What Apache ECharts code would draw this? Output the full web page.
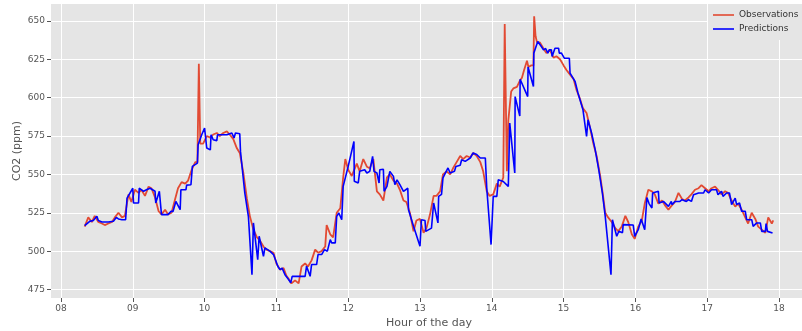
<!DOCTYPE html>
<html>
<head>
<meta charset="utf-8">
<script src="https://cdn.jsdelivr.net/npm/echarts@6/dist/echarts.min.js"></script>
<style>
  html, body { margin: 0; padding: 0; background: #ffffff; overflow: hidden; }
  #chart { width: 802px; height: 331px; }
</style>
</head>
<body>
<div id="chart"></div>
<script>
// Measured CO2 concentration (hour of day, ppm)
const obsTime = [
  8.33, 8.38, 8.43, 8.47, 8.52, 8.57, 8.61, 8.66, 8.71, 8.75, 8.80, 8.85, 8.89, 8.94, 8.98,
  9.03, 9.08, 9.12, 9.17, 9.22, 9.26, 9.31, 9.36, 9.40, 9.45, 9.49, 9.54, 9.59, 9.63, 9.68,
  9.73, 9.77, 9.82, 9.87, 9.90, 9.92, 9.94, 9.98, 10.03, 10.08, 10.12, 10.17, 10.21, 10.26, 10.31,
  10.35, 10.40, 10.45, 10.49, 10.54, 10.59, 10.63, 10.68, 10.73, 10.77, 10.82, 10.86, 10.91, 10.96, 11.00,
  11.05, 11.10, 11.14, 11.17, 11.21, 11.26, 11.31, 11.35, 11.40, 11.44, 11.49, 11.54, 11.58, 11.63, 11.68,
  11.70, 11.75, 11.79, 11.84, 11.89, 11.93, 11.96, 12.00, 12.05, 12.12, 12.16, 12.21, 12.26, 12.30, 12.35,
  12.40, 12.44, 12.49, 12.54, 12.58, 12.63, 12.68, 12.72, 12.77, 12.81, 12.86, 12.91, 12.95, 13.00, 13.05,
  13.09, 13.14, 13.19, 13.23, 13.28, 13.32, 13.37, 13.42, 13.46, 13.51, 13.56, 13.60, 13.65, 13.70, 13.74,
  13.79, 13.84, 13.88, 13.93, 13.97, 14.02, 14.07, 14.11, 14.16, 14.18, 14.21, 14.23, 14.27, 14.30, 14.35,
  14.39, 14.42, 14.45, 14.49, 14.51, 14.55, 14.58, 14.59, 14.61, 14.63, 14.67, 14.72, 14.76, 14.81, 14.86,
  14.90, 14.95, 15.00, 15.04, 15.09, 15.14, 15.18, 15.23, 15.27, 15.32, 15.37, 15.41, 15.46, 15.51, 15.55,
  15.58, 15.62, 15.67, 15.72, 15.76, 15.81, 15.86, 15.90, 15.95, 15.99, 16.04, 16.09, 16.13, 16.18, 16.23,
  16.27, 16.32, 16.37, 16.41, 16.46, 16.51, 16.55, 16.60, 16.65, 16.69, 16.74, 16.78, 16.83, 16.88, 16.92,
  16.97, 17.02, 17.06, 17.11, 17.15, 17.20, 17.25, 17.29, 17.34, 17.39, 17.43, 17.48, 17.53, 17.57, 17.62,
  17.67, 17.71, 17.76, 17.81, 17.85, 17.90, 17.92
];
const obsCO2 = [
  516, 522, 519, 523, 519, 518, 517, 518, 519, 522, 525, 522, 523, 537, 532,
  540, 538, 540, 536, 542, 541, 535, 526, 524, 527, 524, 525, 534, 541, 545,
  544, 546, 553, 558, 558, 622, 570, 570, 575, 574, 576, 577, 575, 577, 578,
  576, 573, 567, 564, 551, 534, 523, 514, 509, 507, 503, 501, 500, 499, 492,
  488, 489, 484, 482, 479, 481, 479, 490, 492, 490, 494, 501, 499, 500, 503,
  517, 511, 509, 525, 528, 548, 560, 553, 549, 557, 552, 560, 555, 554, 560,
  539, 537, 533, 548, 550, 546, 544, 540, 533, 532, 525, 513, 520, 521, 512,
  515, 524, 536, 536, 539, 550, 552, 550, 554, 558, 562, 560, 562, 561, 564,
  562, 558, 552, 539, 536, 537, 544, 542, 548, 648, 552, 585, 604, 606, 607,
  611, 613, 618, 624, 620, 621, 621, 653, 640, 636, 636, 632, 629, 631, 626,
  627, 625, 621, 618, 615, 612, 605, 599, 593, 590, 580, 571, 562, 549, 536,
  525, 522, 519, 515, 513, 516, 523, 519, 511, 508, 516, 520, 531, 540, 539,
  537, 531, 533, 530, 527, 530, 532, 538, 534, 533, 535, 537, 540, 541, 543,
  541, 539, 541, 542, 540, 537, 539, 538, 533, 529, 531, 527, 522, 518, 525,
  521, 516, 514, 512, 522, 518, 520
];

// Model output (hour of day, ppm)
const predTime = [
  8.33, 8.40, 8.45, 8.50, 8.52, 8.57, 8.66, 8.73, 8.77, 8.80, 8.85, 8.90, 8.92, 9.00, 9.01,
  9.08, 9.09, 9.15, 9.19, 9.24, 9.31, 9.32, 9.37, 9.40, 9.49, 9.53, 9.56, 9.60, 9.66, 9.67,
  9.74, 9.75, 9.81, 9.83, 9.90, 9.91, 9.96, 10.00, 10.03, 10.08, 10.09, 10.12, 10.17, 10.18, 10.24,
  10.26, 10.31, 10.33, 10.38, 10.41, 10.43, 10.49, 10.50, 10.56, 10.61, 10.66, 10.68, 10.74, 10.76, 10.82,
  10.84, 10.91, 10.96, 10.98, 11.02, 11.05, 11.08, 11.12, 11.17, 11.20, 11.22, 11.33, 11.40, 11.42, 11.47,
  11.49, 11.56, 11.58, 11.63, 11.67, 11.71, 11.75, 11.77, 11.82, 11.84, 11.87, 11.91, 11.93, 12.00, 12.08,
  12.085, 12.14, 12.16, 12.23, 12.26, 12.30, 12.34, 12.36, 12.40, 12.43, 12.44, 12.49, 12.50, 12.54, 12.58,
  12.63, 12.65, 12.68, 12.72, 12.77, 12.83, 12.84, 12.91, 13.00, 13.02, 13.07, 13.08, 13.16, 13.19, 13.25,
  13.26, 13.30, 13.32, 13.39, 13.42, 13.48, 13.50, 13.56, 13.58, 13.63, 13.65, 13.70, 13.74, 13.79, 13.84,
  13.91, 13.93, 13.99, 14.02, 14.07, 14.09, 14.16, 14.18, 14.23, 14.25, 14.32, 14.325, 14.39, 14.395, 14.50,
  14.505, 14.58, 14.585, 14.64, 14.69, 14.72, 14.75, 14.78, 14.80, 14.83, 14.84, 14.88, 14.93, 14.94, 14.97,
  15.01, 15.08, 15.09, 15.16, 15.20, 15.27, 15.32, 15.34, 15.39, 15.44, 15.49, 15.54, 15.58, 15.66, 15.68,
  15.74, 15.77, 15.82, 15.83, 15.97, 15.99, 16.04, 16.08, 16.13, 16.15, 16.16, 16.19, 16.23, 16.24, 16.32,
  16.33, 16.39, 16.41, 16.46, 16.50, 16.51, 16.55, 16.62, 16.65, 16.71, 16.74, 16.78, 16.81, 16.88, 16.90,
  16.95, 16.97, 17.02, 17.06, 17.13, 17.15, 17.20, 17.22, 17.27, 17.31, 17.34, 17.39, 17.41, 17.45, 17.48,
  17.53, 17.55, 17.57, 17.62, 17.64, 17.69, 17.74, 17.76, 17.81, 17.82, 17.84, 17.91
];
const predCO2 = [
  516.6, 519.4, 520.0, 522.7, 520.0, 519.0, 519.0, 519.5, 522.0, 521.0, 520.5, 520.5, 534.6, 541.0, 531.4,
  531.4, 541.0, 539.0, 540.0, 541.0, 539.0, 531.4, 539.0, 523.8, 523.8, 525.9, 525.9, 532.4, 527.0, 540.0,
  540.0, 543.0, 543.3, 555.2, 557.4, 569.3, 575.8, 580.2, 567.2, 566.0, 575.8, 572.6, 572.0, 575.8, 575.8,
  574.7, 575.8, 574.7, 577.0, 573.7, 577.0, 576.5, 565.0, 537.9, 522.7, 484.7, 518.4, 494.5, 509.7, 496.7,
  502.1, 500.0, 497.8, 499.0, 490.2, 488.0, 489.0, 484.7, 481.5, 479.4, 483.6, 483.6, 483.6, 490.2, 483.6,
  491.3, 491.3, 497.8, 497.8, 501.0, 500.0, 507.5, 505.4, 505.4, 522.7, 524.9, 520.5, 542.2, 555.2, 571.5,
  545.5, 544.4, 552.0, 553.0, 550.9, 552.0, 561.7, 552.0, 550.9, 544.4, 553.0, 553.4, 539.0, 542.2, 552.0,
  548.7, 543.3, 546.5, 543.3, 539.0, 541.0, 527.0, 516.2, 503.2, 520.5, 520.0, 512.9, 515.0, 531.4, 518.4,
  535.7, 537.0, 547.7, 554.2, 550.9, 552.0, 555.2, 556.0, 559.6, 558.5, 559.6, 560.7, 564.0, 563.0, 560.7,
  560.7, 541.0, 504.3, 535.7, 535.7, 546.5, 545.4, 544.4, 542.2, 583.4, 550.9, 600.7, 588.0, 612.0, 600.7,
  620.0, 607.3, 629.0, 636.6, 633.3, 631.1, 632.0, 629.0, 631.1, 631.1, 626.8, 632.2, 632.2, 629.0, 629.0,
  625.7, 625.7, 616.0, 610.5, 603.0, 592.1, 574.7, 585.6, 577.0, 566.1, 553.0, 537.9, 522.7, 484.7, 520.5,
  509.7, 513.0, 512.0, 517.3, 517.0, 509.7, 514.0, 521.0, 514.0, 514.0, 535.0, 531.0, 528.1, 537.9, 539.0,
  531.4, 532.4, 531.4, 529.2, 532.4, 530.3, 532.4, 532.4, 533.5, 532.4, 533.5, 532.4, 536.8, 537.9, 539.0,
  537.9, 540.0, 537.9, 540.0, 540.0, 536.8, 539.0, 535.7, 537.9, 537.9, 530.3, 534.6, 530.3, 531.4, 526.0,
  526.0, 520.5, 521.6, 520.5, 516.2, 518.4, 518.4, 512.9, 512.9, 518.0, 512.9, 511.9
];

// Axis ticks
const xTickValues = [8, 9, 10, 11, 12, 13, 14, 15, 16, 17, 18];
const xTickLabels = ['08', '09', '10', '11', '12', '13', '14', '15', '16', '17', '18'];
const yTickValues = [475, 500, 525, 550, 575, 600, 625, 650];

const pair = (xs, ys) => xs.map((x, i) => [x, ys[i]]);

const FONT = 'DejaVu Sans';
const TICK_COLOR = '#555555';

const chart = echarts.init(document.getElementById('chart'), null, { renderer: 'canvas' });

chart.setOption({
  animation: false,
  backgroundColor: '#ffffff',
  textStyle: { fontFamily: FONT },
  // the plotting area runs slightly past the right edge of the canvas
  grid: {
    left: 51, width: 756, top: 4, bottom: 33,
    outerBoundsMode: 'none',
    containLabel: false,
    show: true, backgroundColor: '#E5E5E5', borderWidth: 0
  },
  legend: {
    orient: 'vertical',
    left: 708, top: 4,
    padding: [5, 5, 5, 5],
    backgroundColor: '#E5E5E5',
    icon: 'rect',
    itemWidth: 21, itemHeight: 1.6,
    itemGap: 2,
    textStyle: { fontFamily: FONT, fontSize: 9, color: '#333333', lineHeight: 12 },
    data: ['Observations', 'Predictions']
  },
  xAxis: {
    type: 'value',
    min: 7.861, max: 18.39,
    name: 'Hour of the day',
    nameLocation: 'middle',
    nameGap: 19.5,
    nameMoveOverlap: false,
    nameTextStyle: { fontFamily: FONT, fontSize: 11, color: TICK_COLOR },
    axisLine: { show: false },
    axisTick: {
      show: true, inside: false, length: 4,
      customValues: xTickValues,
      lineStyle: { color: TICK_COLOR, width: 1 }
    },
    axisLabel: {
      customValues: xTickValues,
      margin: 6,
      fontFamily: FONT, fontSize: 9, color: TICK_COLOR,
      formatter: v => xTickLabels[xTickValues.indexOf(v)]
    },
    splitLine: { show: true, lineStyle: { color: '#ffffff', width: 1 } }
  },
  yAxis: {
    type: 'value',
    min: 469.5, max: 661,
    name: 'CO2 (ppm)',
    nameLocation: 'middle',
    nameGap: 28,
    nameMoveOverlap: false,
    nameTextStyle: { fontFamily: FONT, fontSize: 11, color: TICK_COLOR },
    axisLine: { show: false },
    axisTick: {
      show: true, inside: false, length: 4,
      customValues: yTickValues,
      lineStyle: { color: TICK_COLOR, width: 1 }
    },
    axisLabel: {
      customValues: yTickValues,
      margin: 6,
      fontFamily: FONT, fontSize: 9, color: TICK_COLOR
    },
    splitLine: { show: true, lineStyle: { color: '#ffffff', width: 1 } }
  },
  series: [
    {
      name: 'Observations',
      type: 'line',
      data: pair(obsTime, obsCO2),
      symbol: 'none',
      color: '#E24A33',
      lineStyle: { color: '#E24A33', width: 1.8 },
      z: 2
    },
    {
      name: 'Predictions',
      type: 'line',
      data: pair(predTime, predCO2),
      symbol: 'none',
      color: '#0000FF',
      lineStyle: { color: '#0000FF', width: 1.6 },
      z: 3
    }
  ]
});
</script>
</body>
</html>
